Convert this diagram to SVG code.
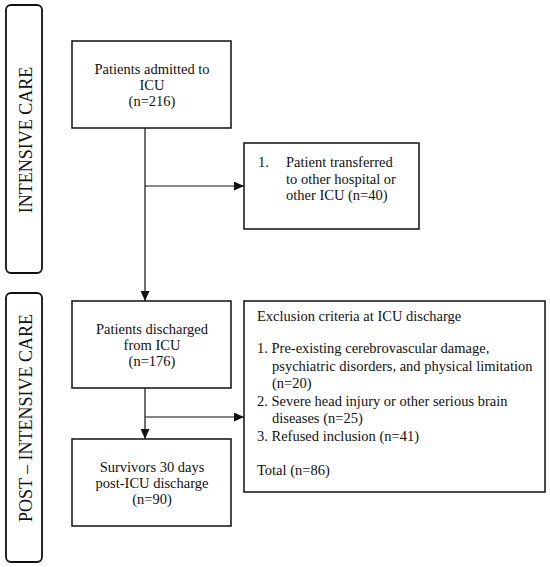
<svg xmlns="http://www.w3.org/2000/svg" width="550" height="567" viewBox="0 0 550 567">
<style>
.box{fill:#fff;stroke:#111;stroke-width:1.5}
.phase{fill:#fff;stroke:#111;stroke-width:1.8}
.t{font-family:"Liberation Serif","Times New Roman",serif;font-size:14.5px;fill:#111}
.c{text-anchor:middle}
.p{font-family:"Liberation Serif","Times New Roman",serif;font-size:18px;fill:#111;text-anchor:middle}
.ln{stroke:#111;stroke-width:1.2;fill:none}
</style>
<defs>
<marker id="ah" viewBox="0 0 10 10" refX="10" refY="5" markerWidth="10" markerHeight="9" markerUnits="userSpaceOnUse" orient="auto" preserveAspectRatio="none">
<path d="M0,0 L10,5 L0,10 z" fill="#111"/>
</marker>
</defs>
<g id="phase-intensive">
<rect class="phase" x="6" y="5" width="36" height="268" rx="5"/>
<text class="p" transform="translate(32,140) rotate(-90)">INTENSIVE CARE</text>
</g>
<g id="phase-post">
<rect class="phase" x="6" y="293" width="36" height="269" rx="5"/>
<text class="p" transform="translate(32,418) rotate(-90)">POST – INTENSIVE CARE</text>
</g>
<g id="connectors">
<line class="ln" x1="145" y1="128" x2="145" y2="301" marker-end="url(#ah)"/>
<line class="ln" x1="145" y1="186" x2="244" y2="186" marker-end="url(#ah)"/>
<line class="ln" x1="145" y1="388" x2="145" y2="439" marker-end="url(#ah)"/>
<line class="ln" x1="145" y1="417" x2="244" y2="417" marker-end="url(#ah)"/>
</g>
<g id="n-admitted">
<rect class="box" x="72" y="41" width="159" height="87"/>
<text class="t c" x="152" y="74">Patients admitted to</text>
<text class="t c" x="152" y="90">ICU</text>
<text class="t c" x="152" y="106">(n=216)</text>
</g>
<g id="n-transferred">
<rect class="box" x="244" y="143" width="175" height="86"/>
<text class="t" x="258" y="167">1.</text>
<text class="t" x="286" y="167">Patient transferred</text>
<text class="t" x="286" y="184">to other hospital or</text>
<text class="t" x="286" y="200">other ICU (n=40)</text>
</g>
<g id="n-discharged">
<rect class="box" x="72" y="301" width="159" height="87"/>
<text class="t c" x="152" y="334">Patients discharged</text>
<text class="t c" x="152" y="350">from ICU</text>
<text class="t c" x="152" y="366">(n=176)</text>
</g>
<g id="n-survivors">
<rect class="box" x="72" y="439" width="159" height="87"/>
<text class="t c" x="152" y="472">Survivors 30 days</text>
<text class="t c" x="152" y="488">post-ICU discharge</text>
<text class="t c" x="152" y="504">(n=90)</text>
</g>
<g id="n-exclusion">
<rect class="box" x="244" y="301" width="301" height="191"/>
<text class="t" x="257" y="321">Exclusion criteria at ICU discharge</text>
<text class="t" x="257" y="353">1. Pre-existing cerebrovascular damage,</text>
<text class="t" x="272" y="371">psychiatric disorders, and physical limitation</text>
<text class="t" x="272" y="388">(n=20)</text>
<text class="t" x="257" y="406">2. Severe head injury or other serious brain</text>
<text class="t" x="272" y="423">diseases (n=25)</text>
<text class="t" x="257" y="441">3. Refused inclusion (n=41)</text>
<text class="t" x="257" y="475">Total (n=86)</text>
</g>
</svg>
